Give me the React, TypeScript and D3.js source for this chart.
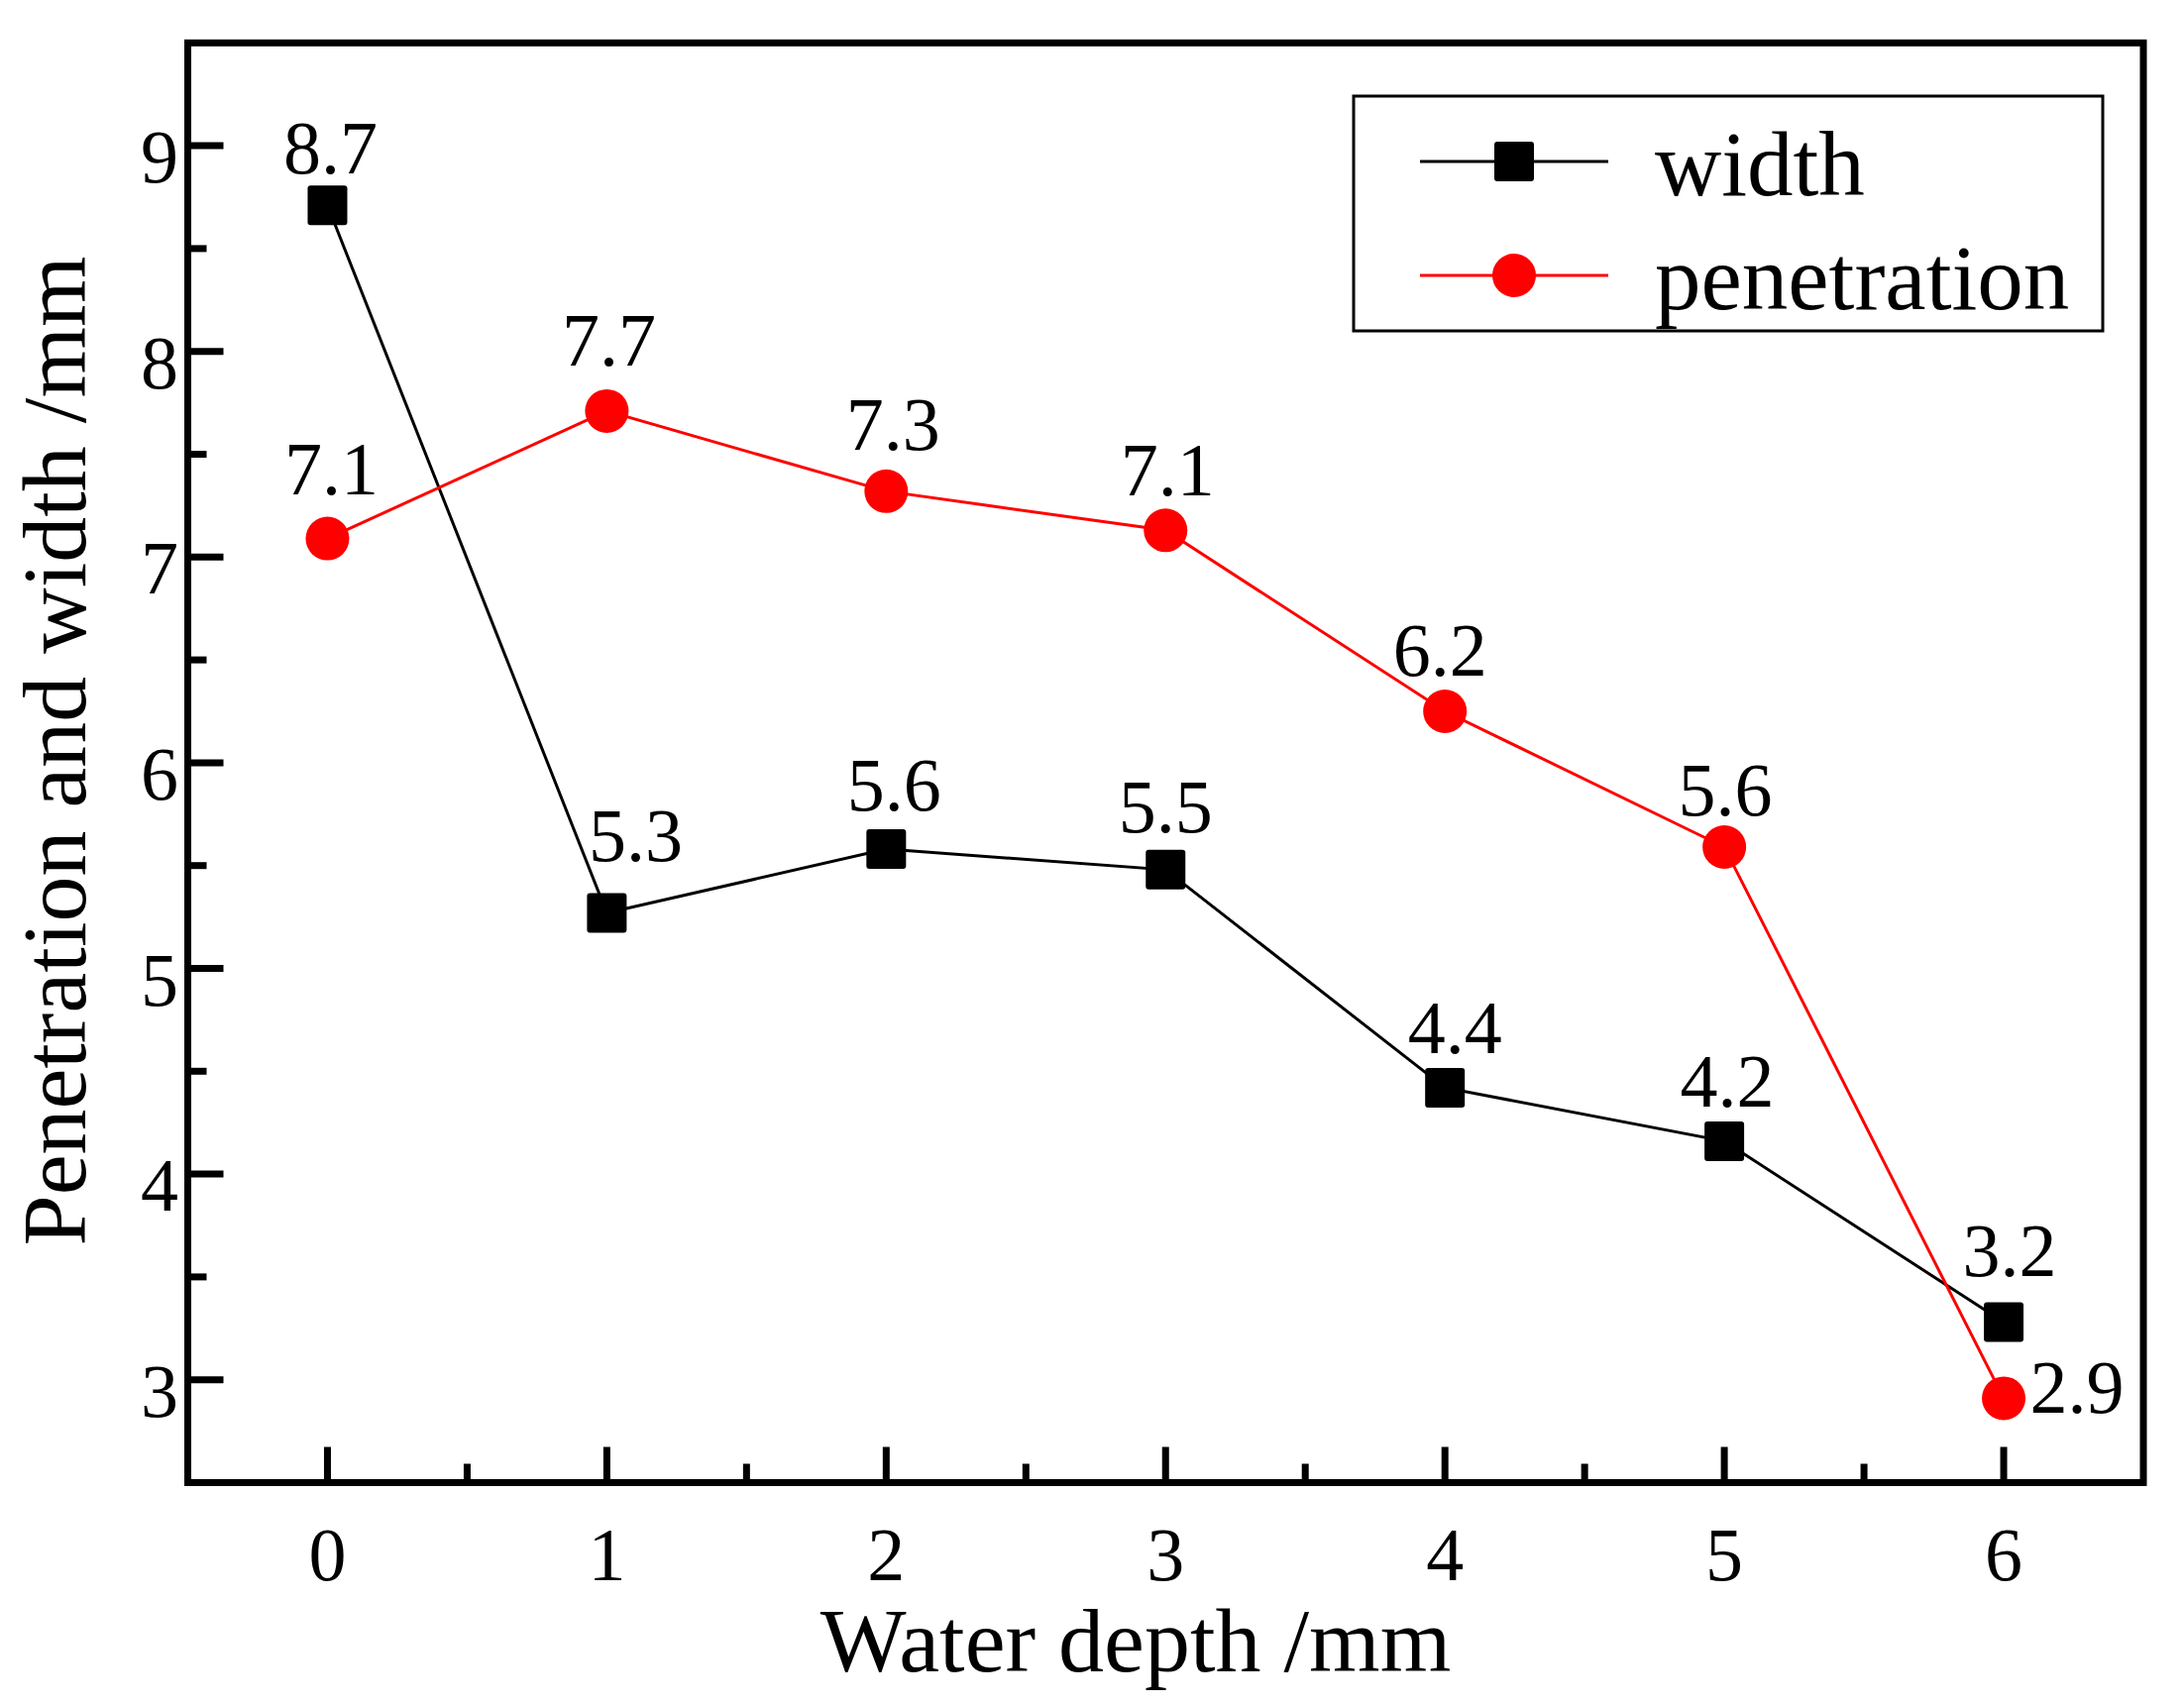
import * as d3 from "d3";

// ── Data ──────────────────────────────────────────────────────
const DEPTH = [0, 1, 2, 3, 4, 5, 6];
const WIDTH = [8.71, 5.27, 5.58, 5.48, 4.42, 4.16, 3.28];
const PENETRATION = [7.09, 7.71, 7.32, 7.13, 6.25, 5.59, 2.91];
const WIDTH_LABELS = ["8.7", "5.3", "5.6", "5.5", "4.4", "4.2", "3.2"];
const PEN_LABELS = ["7.1", "7.7", "7.3", "7.1", "6.2", "5.6", "2.9"];
const Y_TICKS = [3, 4, 5, 6, 7, 8, 9];
const X_TICKS = [0, 1, 2, 3, 4, 5, 6];

// label nudges (px) relative to marker centre
const WIDTH_NUDGE: [number, number][] = [[3, -32], [29, -52], [8, -39], [0, -38], [10, -35], [3, -35], [6, -47]];
const PEN_NUDGE: [number, number][] = [[4, -45], [2, -46], [7, -42], [2, -35], [-5, -36], [1, -32], [74, 15]];

// ── Layout ────────────────────────────────────────────────────
const W = 2204;
const H = 1721;
const M = { left: 189.5, top: 43.3, right: 2163, bottom: 1496.5 };
const FONT = "'Liberation Serif', 'Times New Roman', serif";

export default function App() {
  const x = d3.scaleLinear().domain([-0.5, 6.5]).range([M.left, M.right]);
  const y = d3.scaleLinear().domain([2.5, 9.5]).range([M.bottom, M.top]);

  const line = d3.line<number>()
    .x((_d, i) => x(DEPTH[i]))
    .y((d) => y(d));

  const yMinor = d3.range(2.5, 9.51, 0.5).filter((v) => !Y_TICKS.includes(v) && v > 2.5 && v < 9.5);
  const xMinor = d3.range(-0.5, 6.51, 0.5).filter((v) => !X_TICKS.includes(v) && v > -0.5 && v < 6.5);

  const sq = 40;
  const r = 22;

  return (
    <svg width={W} height={H} style={{ position: "absolute", left: 0, top: 0, background: "#fff" }} fontFamily={FONT}>
      <rect width={W} height={H} fill="#fff" />

      {/* ticks */}
      {Y_TICKS.map((t) => (
        <g key={"y" + t}>
          <line x1={M.left} x2={M.left + 36} y1={y(t)} y2={y(t)} stroke="#000" strokeWidth={7} />
          <text x={180} y={y(t) + 37} fontSize={76} textAnchor="end">{t}</text>
        </g>
      ))}
      {yMinor.map((t) => (
        <line key={"ym" + t} x1={M.left} x2={M.left + 19} y1={y(t)} y2={y(t)} stroke="#000" strokeWidth={7} />
      ))}
      {X_TICKS.map((t) => (
        <g key={"x" + t}>
          <line x1={x(t)} x2={x(t)} y1={M.bottom} y2={M.bottom - 36} stroke="#000" strokeWidth={7} />
          <text x={x(t)} y={1595} fontSize={76} textAnchor="middle">{t}</text>
        </g>
      ))}
      {xMinor.map((t) => (
        <line key={"xm" + t} x1={x(t)} x2={x(t)} y1={M.bottom} y2={M.bottom - 19} stroke="#000" strokeWidth={7} />
      ))}

      {/* frame */}
      <rect x={M.left} y={M.top} width={M.right - M.left} height={M.bottom - M.top} fill="none" stroke="#000" strokeWidth={7} />

      {/* series lines */}
      <path d={line(WIDTH) ?? ""} fill="none" stroke="#000" strokeWidth={3} />
      <path d={line(PENETRATION) ?? ""} fill="none" stroke="#ff0000" strokeWidth={3} />

      {/* markers */}
      {WIDTH.map((v, i) => (
        <rect key={"ws" + i} x={x(DEPTH[i]) - sq / 2} y={y(v) - sq / 2} width={sq} height={sq} rx={3} fill="#000" />
      ))}
      {PENETRATION.map((v, i) => (
        <circle key={"pc" + i} cx={x(DEPTH[i])} cy={y(v)} r={r} fill="#ff0000" />
      ))}

      {/* value labels */}
      {WIDTH.map((v, i) => (
        <text key={"wl" + i} x={x(DEPTH[i]) + WIDTH_NUDGE[i][0]} y={y(v) + WIDTH_NUDGE[i][1]} fontSize={76} textAnchor="middle">
          {WIDTH_LABELS[i]}
        </text>
      ))}
      {PENETRATION.map((v, i) => (
        <text key={"pl" + i} x={x(DEPTH[i]) + PEN_NUDGE[i][0]} y={y(v) + PEN_NUDGE[i][1]} fontSize={76} textAnchor="middle">
          {PEN_LABELS[i]}
        </text>
      ))}

      {/* legend */}
      <rect x={1366} y={97} width={756} height={237} fill="#fff" stroke="#000" strokeWidth={3} />
      <line x1={1433} x2={1623} y1={163} y2={163} stroke="#000" strokeWidth={3} />
      <rect x={1528 - sq / 2} y={163 - sq / 2} width={sq} height={sq} rx={3} fill="#000" />
      <text x={1670} y={197} fontSize={93}>width</text>
      <line x1={1433} x2={1623} y1={278} y2={278} stroke="#ff0000" strokeWidth={3} />
      <circle cx={1528} cy={278} r={r} fill="#ff0000" />
      <text x={1670} y={312} fontSize={93}>penetration</text>

      {/* axis titles */}
      <text x={1146} y={1687} fontSize={92} textAnchor="middle">Water depth /mm</text>
      <text transform="translate(86,758) rotate(-90)" fontSize={92} textAnchor="middle">Penetration and width /mm</text>
    </svg>
  );
}
